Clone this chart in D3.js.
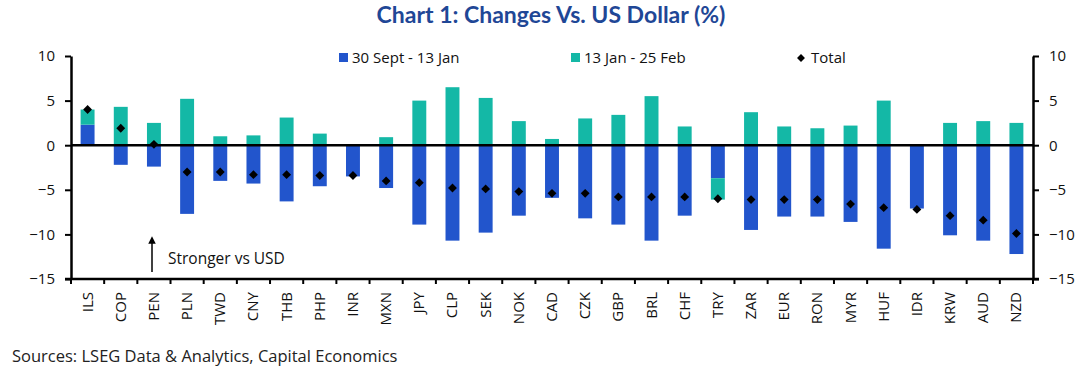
<!DOCTYPE html>
<html><head><meta charset="utf-8">
<script src="https://cdn.jsdelivr.net/npm/d3@7"></script>
<style>
body{margin:0;background:#fff;}
svg{display:block;font-family:"Open Sans","Noto Sans",sans-serif;}
</style></head>
<body><svg id="c" width="1088" height="369"></svg>
<script>
const categories = ["ILS","COP","PEN","PLN","TWD","CNY","THB","PHP","INR","MXN","JPY","CLP","SEK","NOK","CAD","CZK","GBP","BRL","CHF","TRY","ZAR","EUR","RON","MYR","HUF","IDR","KRW","AUD","NZD"];
const period1 = [2.3,-2.2,-2.4,-7.7,-4.0,-4.3,-6.3,-4.6,-3.5,-4.8,-8.9,-10.7,-9.8,-7.9,-5.9,-8.2,-8.9,-10.7,-7.9,-3.7,-9.5,-8.0,-8.0,-8.6,-11.6,-7.1,-10.1,-10.7,-12.2];
const period2 = [1.7,4.3,2.5,5.2,1.0,1.1,3.1,1.3,0.1,0.9,5.0,6.5,5.3,2.7,0.7,3.0,3.4,5.5,2.1,-2.4,3.7,2.1,1.9,2.2,5.0,0.1,2.5,2.7,2.5];
const totals = [4.0,1.9,0.1,-3.0,-3.0,-3.3,-3.3,-3.4,-3.4,-4.0,-4.2,-4.8,-4.9,-5.2,-5.4,-5.4,-5.8,-5.8,-5.8,-6.0,-6.1,-6.1,-6.1,-6.6,-7.0,-7.2,-7.9,-8.4,-9.9];
const yTicks = [10,5,0,-5,-10,-15];
const seriesNames = ["30 Sept - 13 Jan","13 Jan - 25 Feb","Total"];
const colors = ["#2255CC","#14B8A6"];

const svg = d3.select("#c");
const L = 71, R = 1033, T = 56, B = 279;
const x = d3.scaleBand().domain(categories).range([L, R]).paddingInner(0.58).paddingOuter(0.29);
const y = d3.scaleLinear().domain([-15, 10]).range([B, T]);

// title
svg.append("text").attr("x", 551).attr("y", 23).attr("text-anchor", "middle")
  .attr("font-family", "Lato, 'Open Sans', sans-serif").attr("font-weight", "bold")
  .attr("font-size", 23).attr("fill", "#1F4796").text("Chart 1: Changes Vs. US Dollar (%)");

// stacked bars
const rows = categories.map((c, i) => ({cat: c, a: period1[i], b: period2[i]}));
const stack = d3.stack().keys(["a","b"]).offset(d3.stackOffsetDiverging);
const layers = stack(rows);
svg.append("g").selectAll("g").data(layers).join("g")
  .attr("fill", (d, i) => colors[i])
  .selectAll("rect").data(d => d).join("rect")
  .attr("x", d => x(d.data.cat))
  .attr("width", x.bandwidth())
  .attr("y", d => y(Math.max(d[0], d[1])))
  .attr("height", d => Math.abs(y(d[0]) - y(d[1])));

// zero line
svg.append("line").attr("x1", L).attr("x2", R).attr("y1", y(0)).attr("y2", y(0))
  .attr("stroke", "#000").attr("stroke-width", 2.5);

// diamonds
svg.append("g").selectAll("path").data(totals).join("path")
  .attr("d", d3.symbol().type(d3.symbolDiamond2).size(50))
  .attr("transform", (d, i) => `translate(${x(categories[i]) + x.bandwidth()/2},${y(d)})`)
  .attr("fill", "#000");

// axes
const leftAxis = svg.append("g").attr("transform", `translate(${L},0)`)
  .call(d3.axisLeft(y).tickValues(yTicks).tickSize(6).tickSizeOuter(0).tickPadding(10));
const rightAxis = svg.append("g").attr("transform", `translate(${R},0)`)
  .call(d3.axisRight(y).tickValues(yTicks).tickSize(6).tickSizeOuter(0).tickPadding(10));
[leftAxis, rightAxis].forEach(g => {
  g.select(".domain").attr("stroke", "#000").attr("stroke-width", 2.5);
  g.selectAll(".tick line").attr("stroke", "#000").attr("stroke-width", 2);
  g.selectAll(".tick text").attr("font-size", 15).attr("fill", "#111")
    .attr("font-family", "'Open Sans', sans-serif");
});

// bottom axis with ticks at band boundaries
const bottom = svg.append("g").attr("transform", `translate(0,${B})`);
bottom.append("line").attr("x1", L - 6).attr("x2", R + 6).attr("y1", 0).attr("y2", 0)
  .attr("stroke", "#000").attr("stroke-width", 2.5);
const bounds = d3.range(categories.length + 1).map(i => L + i * (R - L) / categories.length);
bottom.selectAll("line.tk").data(bounds).join("line").attr("class", "tk")
  .attr("x1", d => d).attr("x2", d => d).attr("y1", 0).attr("y2", 5)
  .attr("stroke", "#000").attr("stroke-width", 2);
bottom.selectAll("text").data(categories).join("text")
  .attr("transform", d => `translate(${x(d) + x.bandwidth()/2 + 5},13) rotate(-90)`)
  .attr("text-anchor", "end").attr("font-size", 15).attr("fill", "#111")
  .text(d => d);

// legend
const leg = svg.append("g").attr("font-size", 15).attr("fill", "#111");
const legItems = [{x: 339, c: colors[0]}, {x: 571, c: colors[1]}];
legItems.forEach((it, i) => {
  leg.append("rect").attr("x", it.x).attr("y", 53).attr("width", 9).attr("height", 9).attr("fill", it.c);
  leg.append("text").attr("x", it.x + 13).attr("y", 63).text(seriesNames[i]);
});
leg.append("path").attr("d", d3.symbol().type(d3.symbolDiamond2).size(40))
  .attr("transform", "translate(801,58)").attr("fill", "#000");
leg.append("text").attr("x", 811).attr("y", 63).text(seriesNames[2]);

// annotation
svg.append("defs").append("marker").attr("id", "ah").attr("viewBox", "0 0 10 10")
  .attr("refX", 5).attr("refY", 5).attr("markerWidth", 5).attr("markerHeight", 5).attr("orient", "auto")
  .append("path").attr("d", "M0,0 L10,5 L0,10 z").attr("fill", "#000");
svg.append("line").attr("x1", 152).attr("x2", 152).attr("y1", 272).attr("y2", 240)
  .attr("stroke", "#000").attr("stroke-width", 1.5).attr("marker-end", "url(#ah)");
svg.append("text").attr("x", 168).attr("y", 264).attr("font-size", 15.5).attr("fill", "#111")
  .text("Stronger vs USD");

// source
svg.append("text").attr("x", 12).attr("y", 362).attr("font-size", 16.5).attr("fill", "#222")
  .text("Sources: LSEG Data & Analytics, Capital Economics");
</script></body></html>
